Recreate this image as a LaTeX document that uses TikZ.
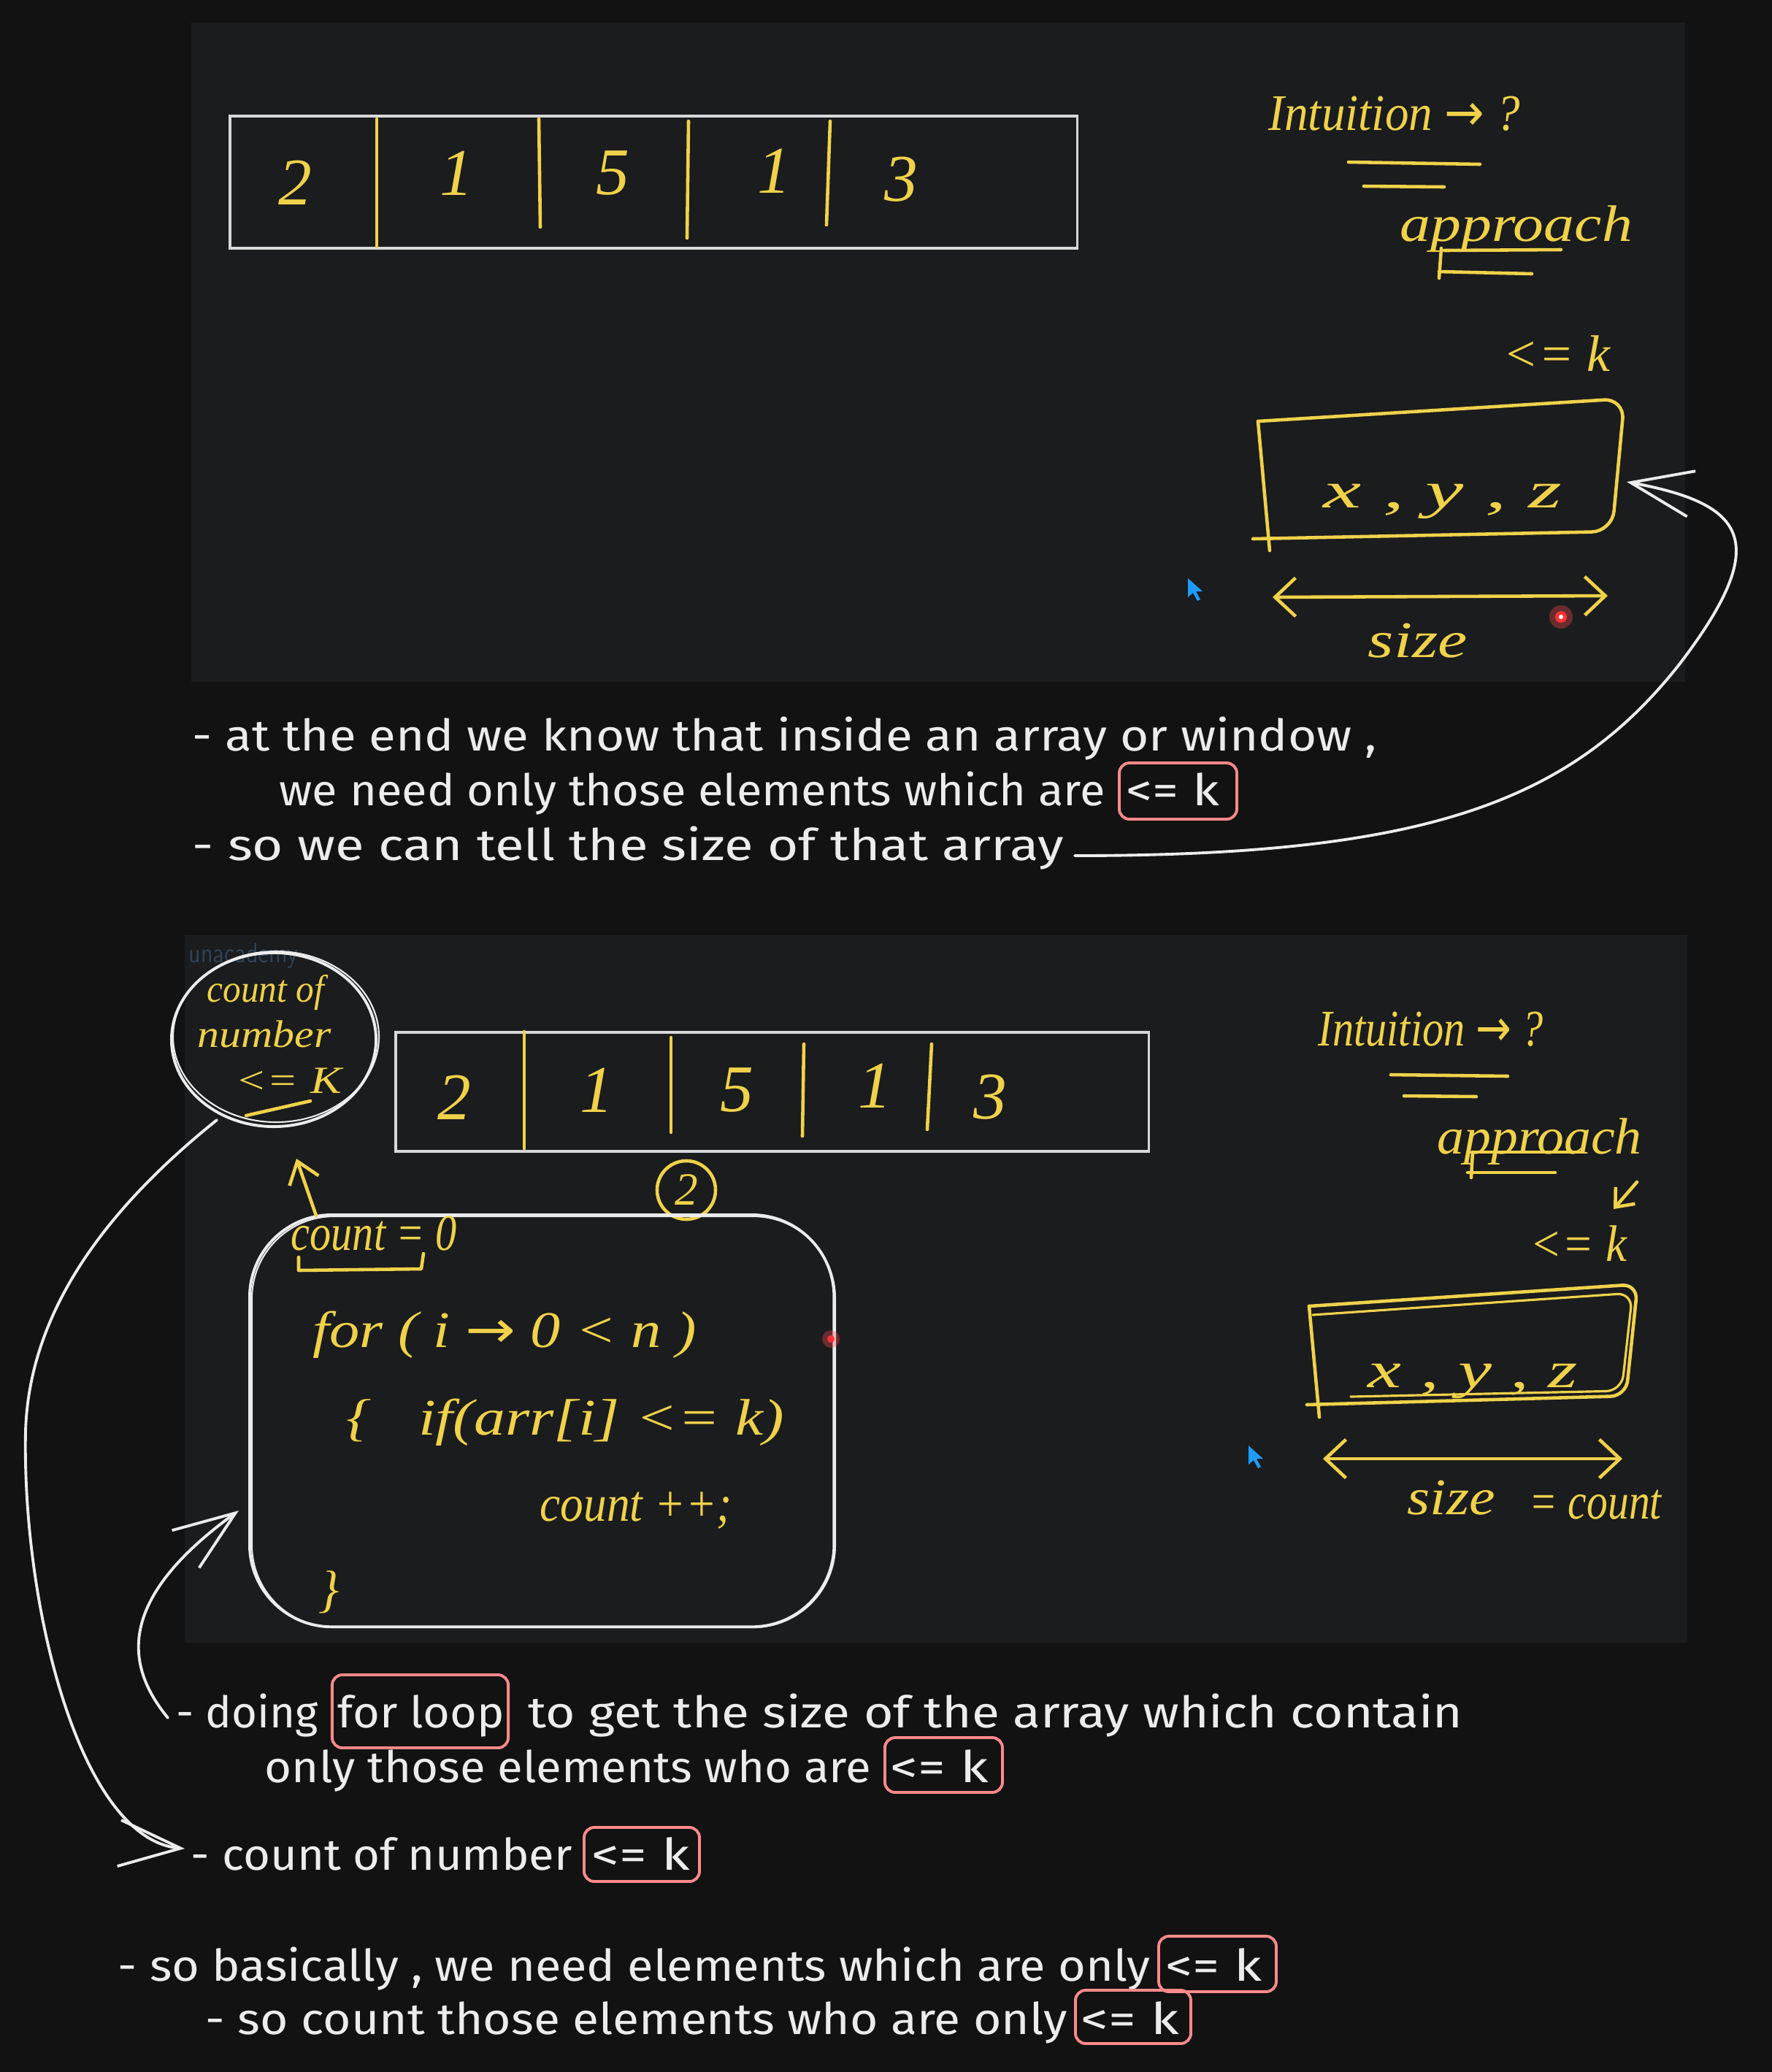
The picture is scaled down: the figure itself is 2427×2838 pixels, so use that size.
\documentclass[tikz,border=0pt]{standalone}
\usepackage{fontspec}
\usepackage{graphicx}
\usetikzlibrary{arrows.meta,shapes.geometric}
\setmainfont{Fira Sans}
\newfontfamily\handfont{Fira Sans}
\newfontfamily\penfont{Liberation Serif}
\newfontfamily\symfont{DejaVu Sans}

\definecolor{bgc}{HTML}{121212}
\definecolor{panelc}{HTML}{1B1C1E}
\definecolor{penyel}{HTML}{F0D24A}
\definecolor{inkw}{HTML}{ECECEC}
\definecolor{boxred}{HTML}{FF8A8A}
\definecolor{framew}{HTML}{D8D8D8}
\definecolor{cursorblue}{HTML}{1E9BFF}

\newsavebox\fitbox
\newcommand\fitw[2]{\sbox\fitbox{#2}\pgfmathsetmacro\fitfac{#1*0.2845276/\the\wd\fitbox}\scalebox{\fitfac}[1]{\usebox\fitbox}}

\begin{document}
\begin{tikzpicture}[x=0.01cm,y=-0.01cm,
  wline/.style={draw=inkw, line width=1.1pt, line cap=round, line join=round},
  yline/.style={draw=penyel, line width=1.3pt, line cap=round, line join=round},
  frame/.style={draw=framew, line width=1pt, inner sep=0pt, anchor=north west},
  say/.style={text=inkw, font=\handfont\fontsize{17}{20}\selectfont, inner sep=0pt, anchor=base west},
  pen/.style={text=penyel, font=\penfont\itshape\fontsize{20}{24}\selectfont, inner sep=0pt, anchor=base west},
  smallpen/.style={text=penyel, font=\penfont\itshape\fontsize{15}{18}\selectfont, inner sep=0pt, anchor=base west},
  digit/.style={text=penyel, font=\penfont\itshape\fontsize{26}{30}\selectfont, inner sep=0pt, anchor=center},
  redbox/.style={draw=boxred, line width=1.1pt, rounded corners=4pt, inner sep=0pt},
  barb/.style={-{Straight Barb[length=24pt,width=18pt,line width=1.1pt]}},
  ybarb/.style={-{Straight Barb[length=8pt,width=12pt,line width=1.3pt]}},
  dbarb/.style={{Straight Barb[length=8pt,width=15pt,line width=1.3pt]}-{Straight Barb[length=8pt,width=15pt,line width=1.3pt]}}
]
% background and panels
\fill[bgc] (0,0) rectangle (2427,2838);
\useasboundingbox (0,0) rectangle (2427,2838);
\fill[panelc] (262,31) rectangle (2308,934);
\fill[panelc] (253,1281) rectangle (2311,2250);

% ================= panel 1 =================
\node[frame, minimum width=11.6cm, minimum height=1.81cm] (arrA) at (313,157) {};
\draw[yline] (516,163) -- (516,338);
\draw[yline] (738,163) -- (740,311);
\draw[yline] (943,166) -- (941,326);
\draw[yline] (1137,166) -- (1132,308);
\node[digit] (a1) at (404,250) {2};
\node[digit] (a2) at (625,237) {1};
\node[digit] (a3) at (839,237) {5};
\node[digit] (a4) at (1060,234) {1};
\node[digit] (a5) at (1234,246) {3};

\node[pen] (intA) at (1737,178) {\fitw{344}{Intuition {\symfont→} ?}};
\draw[yline] (1847,222) -- (2027,225);
\draw[yline] (1868,255) -- (1978,256);
\node[pen] (apA) at (1917,330) {\fitw{318}{approach}};
\draw[yline] (1978,343) -- (2138,342);
\draw[yline] (1971,372) -- (2098,375);
\draw[yline] (1974,340) -- (1971,381);
\node[pen] (leA) at (2058,508) {\fitw{147}{<= k}};
\draw[yline, rounded corners=8pt] (1723,577) -- (2225,546) -- (2208,728) -- (1716,738);
\draw[yline] (1723,577) -- (1739,754);
\node[pen] (xyzA) at (1812,695) {\fitw{326}{x , y , z}};
\coordinate (szAl) at (1743,818);
\coordinate (szAr) at (2202,816);
\draw[yline, dbarb] (szAl) -- (szAr);
\node[pen] (szA) at (1873,900) {\fitw{136}{size}};
\fill[cursorblue] (1627,792) -- (1627,818) -- (1634,812) -- (1640,823) -- (1644,821) -- (1638,810) -- (1647,810) -- cycle;
\fill[red!70!white, opacity=0.35] (2138,845) circle[radius=16];
\fill[red!80] (2138,845) circle[radius=8];
\fill[white] (2138,845) circle[radius=3];

% ================= text block 1 =================
\node[say] (t1) at (263,1028) {\fitw{1621}{- at the end we know that inside an array or window ,}};
\node[say] (t2) at (382,1103) {\fitw{1130}{we need only those elements which are}};
\node[redbox, minimum width=1.61cm, minimum height=0.77cm] (k2) at (1613.5,1083.5) {};
\node[say] (k2t) at (1542,1103) {\fitw{128}{<= k}};
\node[say] (t3) at (263,1178) {\fitw{1193}{- so we can tell the size of that array}};
\coordinate (winAe) at (2228,660);
\draw[wline, barb] ([shift={(14,-6)}]t3.base east) .. controls (1950,1172) and (2150,1100) .. (2300,910) .. controls (2430,740) and (2390,690) .. (winAe);

% ================= panel 2 =================
\node[text=cursorblue!50!gray, opacity=0.35, font=\sffamily\fontsize{11}{11}\selectfont, inner sep=0pt, anchor=base west] (wm) at (258,1318) {\fitw{150}{unacademy}};
\node[draw=inkw, line width=1.1pt, ellipse, minimum width=2.8cm, minimum height=2.38cm, inner sep=0pt] (circB) at (375,1424) {};
\draw[inkw, line width=0.6pt] (378,1420) ellipse [x radius=141, y radius=117];
\node[smallpen] (cB1) at (283,1372) {\fitw{160}{count of}};
\node[smallpen] (cB2) at (270,1434) {\fitw{183}{number}};
\node[smallpen] (cB3) at (322,1497) {\fitw{145}{<= K}};
\draw[yline] (337,1528) -- (425,1508);

\node[frame, minimum width=10.31cm, minimum height=1.63cm] (arrB) at (540,1412) {};
\draw[yline] (718,1413) -- (718,1573);
\draw[yline] (919,1421) -- (919,1551);
\draw[yline] (1101,1430) -- (1099,1556);
\draw[yline] (1276,1430) -- (1270,1547);
\node[digit] (b1) at (622,1503) {2};
\node[digit] (b2) at (817,1493) {1};
\node[digit] (b3) at (1009,1493) {5};
\node[digit] (b4) at (1198,1487) {1};
\node[digit] (b5) at (1356,1503) {3};

\node[draw=penyel, line width=1.3pt, circle, minimum size=0.8cm, text=penyel, font=\penfont\itshape\fontsize{18}{20}\selectfont, inner sep=0pt] (stepB) at (940,1630) {2};
\node[draw=inkw, line width=1.1pt, rounded corners=32pt, minimum width=8cm, minimum height=5.64cm, inner sep=0pt, anchor=north west] (loopB) at (340,1662) {};
\draw[inkw, line width=0.6pt, rounded corners=32pt] (345,1666) rectangle (1144,2229);

\node[pen] (cnt) at (398,1712) {\fitw{227}{count = 0}};
\draw[yline] (409,1722) -- (409,1740) -- (577,1738) -- (580,1717);
\coordinate (cntTop) at (433,1665);
\coordinate (upTip) at (406,1587);
\draw[yline, ybarb] (cntTop) -- (upTip);
\node[pen] (code1) at (428,1845) {\fitw{525}{for ( i {\symfont→} 0 < n )}};
\node[pen] (code2) at (474,1965) {\fitw{599}{\{ \ \ if(arr[i] <= k)}};
\node[pen] (code3) at (739,2083) {\fitw{263}{count ++;}};
\node[pen] (code4) at (436,2200) {\}};
\fill[red!70!white, opacity=0.35] (1138,1834) circle[radius=12];
\fill[red!80] (1138,1834) circle[radius=5];

\node[pen] (intB) at (1805,1432) {\fitw{308}{Intuition {\symfont→} ?}};
\draw[yline] (1905,1472) -- (2065,1474);
\draw[yline] (1923,1501) -- (2022,1502);
\node[pen] (apB) at (1968,1580) {\fitw{280}{approach}};
\draw[yline] (2017,1578) -- (2163,1578);
\draw[yline] (2010,1606) -- (2130,1606);
\draw[yline] (2017,1578) -- (2015,1613);
\coordinate (smA) at (2242,1619);
\coordinate (smB) at (2210,1656);
\draw[yline, -{Straight Barb[length=6pt,width=10pt,line width=1.3pt]}] (smA) -- (smB);
\node[pen] (leB) at (2095,1727) {\fitw{133}{<= k}};
\draw[yline, rounded corners=6pt] (1793,1789) -- (2243,1759) -- (2227,1912) -- (1790,1924);
\draw[yline] (1793,1789) -- (1807,1941);
\draw[yline, line width=0.9pt, rounded corners=6pt] (1798,1801) -- (2236,1771) -- (2221,1905) -- (1850,1913);
\node[pen] (xyzB) at (1873,1900) {\fitw{287}{x , y , z}};
\coordinate (szBl) at (1812,1998);
\coordinate (szBr) at (2222,1998);
\draw[yline, dbarb] (szBl) -- (szBr);
\node[pen] (szB) at (1927,2074) {\fitw{120}{size}};
\node[pen] (cntB) at (2094,2080) {\fitw{181}{= count}};
\fill[cursorblue] (1710,1980) -- (1710,2006) -- (1717,2000) -- (1723,2011) -- (1727,2009) -- (1721,1998) -- (1730,1998) -- cycle;

% ================= text block 2 =================
\node[say] (t4) at (241,2366) {\fitw{194}{- doing}};
\node[redbox, minimum width=2.41cm, minimum height=1.0cm] (k4) at (575.5,2344) {};
\node[say] (k4t) at (462,2366) {\fitw{228}{for loop}};
\node[say] (t4b) at (723,2366) {\fitw{1279}{to get the size of the array which contain}};
\node[say] (t5) at (362,2441) {\fitw{830}{only those elements who are}};
\node[redbox, minimum width=1.61cm, minimum height=0.75cm] (k5) at (1292.5,2417.5) {};
\node[say] (k5t) at (1219,2441) {\fitw{134}{<= k}};
\node[say] (t6) at (261,2561) {\fitw{522}{- count of number}};
\node[redbox, minimum width=1.58cm, minimum height=0.74cm] (k6) at (879,2540) {};
\node[say] (k6t) at (810,2561) {\fitw{134}{<= k}};
\node[say] (t7) at (161,2713) {\fitw{1413}{- so basically , we need elements which are only}};
\node[redbox, minimum width=1.61cm, minimum height=0.76cm] (k7) at (1667.5,2690) {};
\node[say] (k7t) at (1596,2713) {\fitw{132}{<= k}};
\node[say] (t8) at (281,2786) {\fitw{1179}{- so count those elements who are only}};
\node[redbox, minimum width=1.58cm, minimum height=0.73cm] (k8) at (1552,2762.5) {};
\node[say] (k8t) at (1480,2786) {\fitw{134}{<= k}};

% connectors
\coordinate (circS) at (297,1534);
\draw[wline, barb] (circS) .. controls (140,1660) and (40,1800) .. (35,1960) .. controls (30,2200) and (110,2520) .. ([shift={(-8,-29)}]t6.base west);
\coordinate (loopW) at (327,2069);
\draw[wline, barb] ([shift={(-11,-13)}]t4.base west) .. controls (170,2280) and (160,2190) .. (loopW);
\end{tikzpicture}
\end{document}
